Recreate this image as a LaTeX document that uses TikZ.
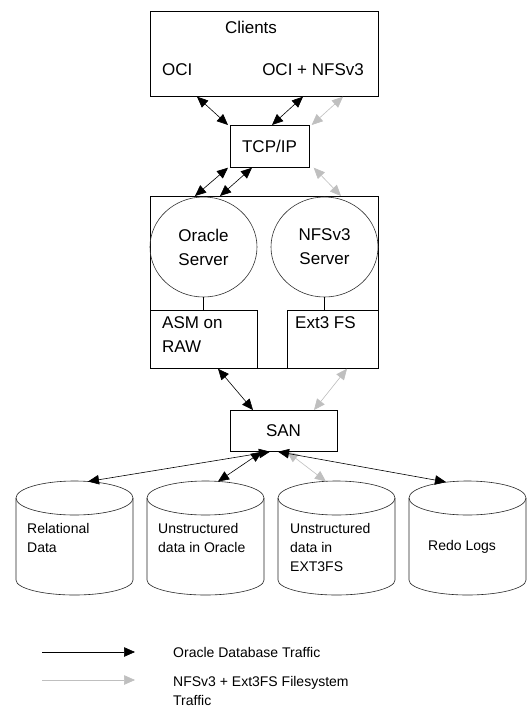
\documentclass[tikz,border=0pt]{standalone}
\usepackage{fontspec}
\setmainfont{Liberation Sans}
\usetikzlibrary{arrows.meta,shapes.geometric,calc}
\begin{document}
\begin{tikzpicture}[x=1pt,y=-1pt,
  box/.style={draw=black,line width=0.7pt,inner sep=0pt,anchor=north west},
  oval/.style={draw=black!80,line width=0.6pt,ellipse,inner sep=0pt,minimum width=107pt,minimum height=100pt,align=center,font=\fontsize{17}{24}\selectfont},
  big/.style={font=\fontsize{17}{24}\selectfont,inner sep=0pt},
  small/.style={font=\fontsize{14}{19}\selectfont,inner sep=0pt,align=left},
  tipA/.tip={Triangle[length=11pt,width=9.5pt]},
  blk/.style={draw=black,line width=0.6pt,tipA-tipA},
  gry/.style={draw=black!25,line width=0.6pt,tipA-tipA},
  cyl/.style={draw=black!85,line width=0.6pt},
]
\useasboundingbox[fill=white] (0,0) rectangle (532,713);

% Clients
\node[box,minimum width=228pt,minimum height=85pt] (clients) at (150,11) {};
\node[big] (clientsT) at (251,27) {Clients};
\node[big,anchor=west] (oci) at (162,70) {OCI};
\node[big,anchor=east] (ocinfs) at (364,70) {OCI + NFSv3};

% TCP/IP
\node[box,minimum width=79pt,minimum height=42pt] (tcp) at (230,125) {};
\node[big] (tcpT) at (269.5,146) {TCP/IP};

% Server box
\node[box,minimum width=228pt,minimum height=172pt] (server) at (150,196) {};
\node[oval] (ora) at (203.5,247) {Oracle\\Server};
\node[oval] (nfs) at (324.5,247) {NFSv3\\Server};
\node[box,minimum width=107pt,minimum height=58pt] (asm) at (150,310) {};
\node[box,minimum width=91pt,minimum height=58pt] (ext) at (287,310) {};
\node[big,anchor=north west,align=left] (asmT) at (162,316) {ASM on\\RAW};
\node[big,anchor=north west] (extT) at (295,316) {Ext3 FS};
\draw[line width=0.6pt] (ora.south) -- (ora.south |- asm.north);
\draw[line width=0.6pt] (nfs.south) -- (nfs.south |- ext.north);

% SAN
\node[box,minimum width=107pt,minimum height=41pt] (san) at (230,410) {};
\node[big] (sanT) at (283.5,430.5) {SAN};

% Cylinders
\foreach \L/\n in {16/1,147/2,278/3,409/4}{
  \draw[cyl,fill=white] (\L+58.5,498) ellipse [x radius=58.5pt, y radius=17pt];
  \draw[cyl] (\L,498) -- (\L,580) arc[start angle=180,end angle=360,x radius=58.5pt,y radius=15pt] -- (\L+117,498);
}
\coordinate (c1) at (88,481.5);
\coordinate (c2) at (218,481.5);
\coordinate (c3) at (326,481.5);
\coordinate (c4) at (446,482);
\node[small,anchor=west] (cyl1T) at (27,537.5) {Relational\\Data};
\node[small,anchor=west] (cyl2T) at (158,537.5) {Unstructured\\data in Oracle};
\node[small,anchor=west] (cyl3T) at (290,547) {Unstructured\\data in\\EXT3FS};
\node[small,anchor=west] (cyl4T) at (428,547) {Redo Logs};

% Connectors Clients <-> TCP/IP
\draw[blk] ([xshift=47pt]clients.south west) -- ([xshift=-2pt]tcp.north west);
\draw[blk] ([xshift=153pt]clients.south west) -- ([xshift=42pt]tcp.north west);
\draw[gry] ([xshift=193pt]clients.south west) -- ([xshift=2pt]tcp.north east);

% TCP/IP <-> Server
\draw[blk] ([xshift=-2pt]tcp.south west) -- ([xshift=45pt]server.north west);
\draw[blk] ([xshift=22pt]tcp.south west) -- ([xshift=70pt]server.north west);
\draw[gry] ([xshift=4pt]tcp.south east) -- ([xshift=191pt]server.north west);

% Server <-> SAN
\draw[blk] ([xshift=68pt]server.south west) -- ([xshift=23pt]san.north west);
\draw[gry] ([xshift=197pt]server.south west) -- ([xshift=84pt]san.north west);

% SAN <-> cylinders
\draw[blk] ([xshift=40pt]san.south west) -- (c1);
\draw[blk] ([xshift=32pt]san.south west) -- (c2);
\draw[gry] ([xshift=57pt]san.south west) -- (c3);
\draw[blk] ([xshift=48pt]san.south west) -- (c4);

% Legend
\coordinate (l1a) at (42,652);
\coordinate (l1b) at (135,652);
\coordinate (l2a) at (42,680);
\coordinate (l2b) at (135,680);
\draw[draw=black,line width=0.6pt,-tipA] (l1a) -- (l1b);
\draw[draw=black!25,line width=0.6pt,-tipA] (l2a) -- (l2b);
\node[small,anchor=west] (leg1) at (173,652) {Oracle Database Traffic};
\node[small,anchor=west] (leg2) at (173,690.5) {NFSv3 + Ext3FS Filesystem\\Traffic};
\end{tikzpicture}
\end{document}
